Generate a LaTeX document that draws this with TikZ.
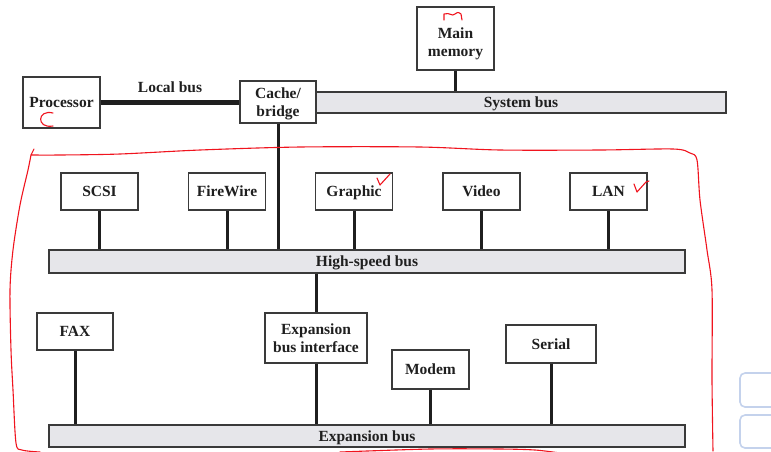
\documentclass[tikz,border=0pt]{standalone}
\usepackage{fontspec}
\setmainfont{Liberation Serif}
\usepackage{xcolor}
\usetikzlibrary{positioning}
\definecolor{busgray}{HTML}{E6E6EA}
\definecolor{edgegray}{HTML}{3A3A3A}
\definecolor{inkred}{HTML}{F0141E}
\definecolor{btnblue}{HTML}{C4D2EC}
\tikzset{
    x=1pt, y=-1pt, % pixel-like units, y grows downwards
    every node/.style={font=\fontsize{15.5}{18}\selectfont\bfseries, text=black!88}, % bold serif labels
    unit/.style={draw=edgegray, line width=1.2pt, fill=white, align=center, inner sep=0pt, text depth=0pt}, % a device box
    bus/.style={draw=edgegray, line width=1.2pt, fill=busgray, inner sep=0pt, text depth=0pt}, % a grey bus bar
}
\tikzstyle{link} = [line width=3pt, draw=black!88]
\tikzstyle{annot} = [draw=inkred, line width=1.1pt, line cap=round, line join=round]

\begin{document}
\begin{tikzpicture}
    \useasboundingbox (0,0) rectangle (771,451);

    % Top: processor, cache and memory
    \node[bus, minimum width=410pt, minimum height=21pt] (sysbus) at (521,102.5) {System bus};
    \node[unit, minimum width=77pt, minimum height=51pt] (proc) at (61.5,102.5) {Processor};
    \node[unit, minimum width=76pt, minimum height=42pt] (cache) at (278,102) {Cache/\\bridge};
    \node[unit, minimum width=77pt, minimum height=63pt] (mem) at (455.5,38.5) {\rule{0pt}{17pt}Main\\memory};
    \node (lbus) at (170,87) {Local bus};
    \draw[line width=4.6pt, draw=black!88] (proc.east) -- (proc.east -| cache.west);
    \draw[link] (mem.south) -- (mem.south |- sysbus.north);

    % High-speed bus
    \node[bus, minimum width=636pt, minimum height=23pt] (hsbus) at (367,261.5) {High-speed bus};
    \foreach \name/\cx in {SCSI/99.5, FireWire/227, Graphic/354, Video/481.5, LAN/608.5}{
        \node[unit, minimum width=77pt, minimum height=37pt] (\name) at (\cx,191.5) {\name};
        \draw[link] (\name.south) -- (\name.south |- hsbus.north);
    }
    \draw[link] (cache.south) -- (cache.south |- hsbus.north);

    % Expansion bus
    \node[bus, minimum width=636pt, minimum height=22pt] (expbus) at (367,436) {Expansion bus};
    \node[unit, minimum width=76pt, minimum height=37pt] (fax) at (75,331.5) {FAX};
    \node[unit, minimum width=102pt, minimum height=50pt] (ebi) at (316,338) {Expansion\\bus interface};
    \node[unit, minimum width=77pt, minimum height=39pt] (modem) at (430.5,369.5) {Modem};
    \node[unit, minimum width=90pt, minimum height=38pt] (serial) at (551,344) {Serial};
    \draw[link] (ebi.north |- hsbus.south) -- (ebi.north);
    \foreach \dev in {fax, ebi, modem, serial}
        \draw[link] (\dev.south) -- (\dev.south |- expbus.north);

    % Red hand marks
    \draw[annot] (34,149) -- (31,155)
        plot[smooth, tension=0.5] coordinates {(31,155) (60,155) (120,154) (200,150) (300,147) (420,147) (500,150) (600,150) (673,149) (690,153) (697,160) (700,200) (707,250) (712,290) (712,380) (713,451)};
    \draw[annot] plot[smooth, tension=0.5] coordinates {(31,155) (28,170) (20,205) (13,250) (10,290) (11,350) (13,390) (16,443) (22,450) (40,452)};
    \draw[annot] plot[smooth, tension=0.5] coordinates {(340,452) (430,449) (500,449) (535,450) (560,453)};
    \draw[annot] (53,113) .. controls (37,109) and (36,129) .. (53,126);
    \draw[annot] (444,20) -- (444,14) .. controls (450,12) and (452,17) .. (455,14) .. controls (458,12) .. (461,14) -- (462,20);
    \draw[annot] (377,178) -- (380,185) -- (390,174);
    \draw[annot] (634,184) -- (637,192) -- (646,182) -- (649,181);

    % Screen buttons at the right edge
    \draw[draw=btnblue, line width=1.6pt, rounded corners=5pt, fill=white] (740,373) rectangle (795,407);
    \draw[draw=btnblue, line width=1.6pt, rounded corners=5pt, fill=white] (740,415) rectangle (795,448);
\end{tikzpicture}
\end{document}
